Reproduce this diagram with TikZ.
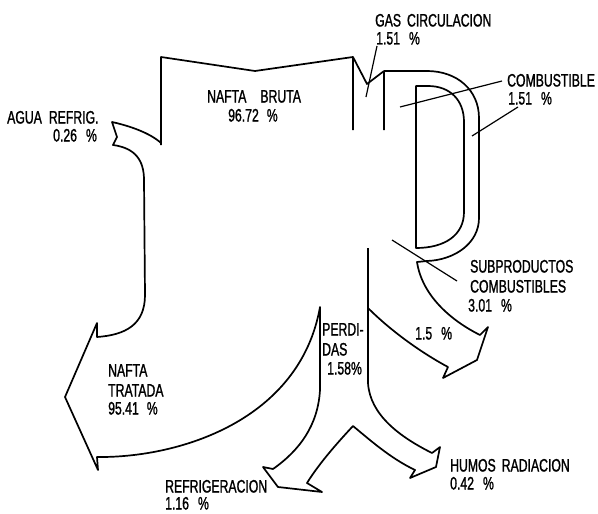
\documentclass[tikz,border=0pt]{standalone}
\usepackage{fontspec}
\setmainfont{Liberation Sans}[FakeStretch=0.68, FakeBold=1.2]
\begin{document}
\begin{tikzpicture}[x=1pt,y=-1pt,
  flow/.style={line width=1.7pt, line join=round},
  lead/.style={line width=1.2pt},
  lbl/.style={anchor=west, inner sep=0pt, text height=13pt, text depth=0pt,
    font=\fontsize{18}{20}\selectfont}]
\useasboundingbox[fill=white] (0,0) rectangle (598,514);

% main inlet (NAFTA BRUTA) and gas inlet
\draw[flow] (161,145) -- (161,57) -- (255,71) -- (353,57) -- (353,130)
            (353,57) -- (367,84) -- (384,71) -- (384,130);

% combustible loop and 1.5 % outlet
\draw[flow] (384,71) -- (427,71) .. controls (457,71) and (479,90) .. (479,118)
  -- (479,218) .. controls (479,243) and (455,260) .. (427,261) -- (417,262)
  .. controls (422,295) and (450,320) .. (480,335) -- (488,327) -- (477,360)
  -- (443,378) -- (448,367) .. controls (420,352) and (390,330) .. (368,308);

% inner D
\draw[flow] (416,248) -- (416,86) -- (428,86) .. controls (450,86) and (464,100) .. (464,122)
  -- (464,212) .. controls (464,235) and (445,248) .. (416,248) -- cycle;

% left side, outlets and trunk
\draw[flow] (161,143) .. controls (150,133) and (130,126) .. (112,122) -- (117,137) -- (113,145)
  .. controls (135,148) and (144,160) .. (144,180) -- (145,295)
  .. controls (145,325) and (125,335) .. (97,337) -- (97,323) -- (65,397) -- (98,470) -- (97,457)
  .. controls (180,458) and (300,420) .. (320,307) -- (320,390)
  .. controls (318,425) and (300,450) .. (273,469) -- (263,467) -- (278,487) -- (322,492) -- (307,483)
  .. controls (320,462) and (340,440) .. (353,426)
  .. controls (370,440) and (390,458) .. (415,470) -- (410,478) -- (436,467) -- (440,447) -- (432,453)
  .. controls (400,437) and (370,415) .. (368,383) -- (368,248);

% labels
\node[lbl] (gas1) at (375,20) {GAS\hspace{6pt}CIRCULACION};
\node[lbl] (gas2) at (376,38) {1.51\hspace{9pt}\%};
\node[lbl] (comb1) at (507,80) {COMBUSTIBLE};
\node[lbl] (comb2) at (508,98) {1.51\hspace{9pt}\%};
\node[lbl] (nb1) at (207,96) {NAFTA\hspace{14pt}BRUTA};
\node[lbl] (nb2) at (228,115) {96.72\hspace{8pt}\%};
\node[lbl] (ag1) at (7,117) {AGUA\hspace{7pt}REFRIG.};
\node[lbl] (ag2) at (53,135) {0.26\hspace{9pt}\%};
\node[lbl] (sp1) at (470,266) {SUBPRODUCTOS};
\node[lbl] (sp2) at (470,286) {COMBUSTIBLES};
\node[lbl] (sp3) at (468,305) {3.01\hspace{9pt}\%};
\node[lbl] (p15) at (415,333) {1.5\hspace{9pt}\%};
\node[lbl] (pe1) at (322,329) {PERDI-};
\node[lbl] (pe2) at (322,349) {DAS};
\node[lbl] (pe3) at (327,368) {1.58\%};
\node[lbl] (nt1) at (108,370) {NAFTA};
\node[lbl] (nt2) at (108,390) {TRATADA};
\node[lbl] (nt3) at (108,408) {95.41\hspace{8pt}\%};
\node[lbl] (rf1) at (165,486) {REFRIGERACION};
\node[lbl] (rf2) at (165,503) {1.16\hspace{9pt}\%};
\node[lbl] (hu1) at (450,465) {HUMOS\hspace{6pt}RADIACION};
\node[lbl] (hu2) at (450,483) {0.42\hspace{9pt}\%};

% leader lines
\coordinate (gasA) at (377,46);  \coordinate (gasB) at (366,97);
\coordinate (cbA) at (502,81);   \coordinate (cbB) at (400,107);
\coordinate (cbC) at (518,107);  \coordinate (cbD) at (472,136);
\coordinate (spA) at (457,281);  \coordinate (spB) at (392,240);
\draw[lead] (gasA) -- (gasB);
\draw[lead] (cbA) -- (cbB);
\draw[lead] (cbC) -- (cbD);
\draw[lead] (spA) -- (spB);
\end{tikzpicture}
\end{document}
